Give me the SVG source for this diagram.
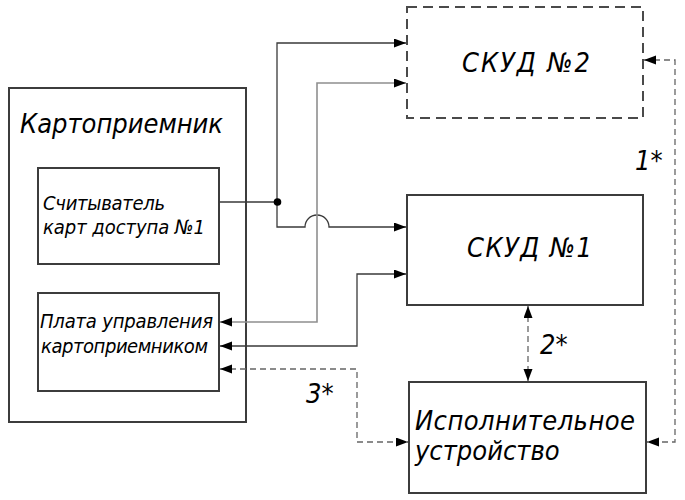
<svg xmlns="http://www.w3.org/2000/svg" width="685" height="500" viewBox="0 0 685 500">
<style>
.box{fill:#fff;stroke:#3c3c3c;stroke-width:2}
.dbox{fill:#fff;stroke:#4a4a4a;stroke-width:2;stroke-dasharray:10 6}
.t{font-family:"DejaVu Sans Condensed","DejaVu Sans",sans-serif;font-stretch:condensed;font-style:italic;fill:#000}
.big{font-size:27px}
.sm{font-size:20px}
.ln{fill:none;stroke:#3a3a3a;stroke-width:1.3}
.lg{fill:none;stroke:#8f8f8f;stroke-width:1.6}
.dl{fill:none;stroke:#666;stroke-width:1.3;stroke-dasharray:6 4}
</style>
<defs>
<marker id="ar" markerUnits="userSpaceOnUse" markerWidth="13" markerHeight="10" refX="12" refY="4.5" orient="auto-start-reverse">
<path d="M0,0 L12,4.5 L0,9 z" fill="#000"/>
</marker>
</defs>
<rect width="685" height="500" fill="#fff"/>
<g id="kartopriemnik">
<rect class="box" x="9" y="88" width="237" height="334"/>
<text class="t big" x="20" y="133" textLength="203">Картоприемник</text>
</g>
<g id="reader">
<rect class="box" x="38" y="168" width="181" height="96"/>
<text class="t sm" x="43" y="210" textLength="122">Считыватель</text>
<text class="t sm" x="43" y="234" textLength="162">карт доступа №1</text>
</g>
<g id="board">
<rect class="box" x="38" y="293" width="181" height="98"/>
<text class="t sm" x="40" y="328" textLength="173">Плата управления</text>
<text class="t sm" x="41" y="353" textLength="167">картоприемником</text>
</g>
<g id="skud2">
<rect class="dbox" x="407" y="7" width="236" height="111"/>
<text class="t big" x="462" y="72" textLength="128">СКУД №2</text>
</g>
<g id="skud1">
<rect class="box" x="407" y="195" width="236" height="110"/>
<text class="t big" x="467" y="257" textLength="125">СКУД №1</text>
</g>
<g id="exec">
<rect class="box" x="409" y="382" width="237" height="111"/>
<text class="t big" x="415" y="430" textLength="220">Исполнительное</text>
<text class="t big" x="415" y="460">устройство</text>
</g>
<g id="connectors">
<path class="ln" d="M219,202 H277 V43 H406" marker-end="url(#ar)"/>
<path class="ln" d="M277,202 V227 H305 A12,12 0 0 1 329,227 H406" marker-end="url(#ar)"/>
<circle cx="277.5" cy="202" r="3.8" fill="#000"/>
<path class="lg" d="M220,322 H317 V83 H406" marker-start="url(#ar)" marker-end="url(#ar)"/>
<path class="ln" d="M220,346 H357 V274 H406" marker-start="url(#ar)" marker-end="url(#ar)"/>
<path class="dl" d="M220,369 H357 V442 H408" marker-start="url(#ar)" marker-end="url(#ar)"/>
<path class="dl" d="M644,60 H675 V442 H647" marker-start="url(#ar)" marker-end="url(#ar)"/>
<path class="dl" d="M528,306 V381" marker-start="url(#ar)" marker-end="url(#ar)"/>
<text class="t big" x="306" y="403">3*</text>
<text class="t big" x="635" y="170">1*</text>
<text class="t big" x="540" y="354">2*</text>
</g>
</svg>
